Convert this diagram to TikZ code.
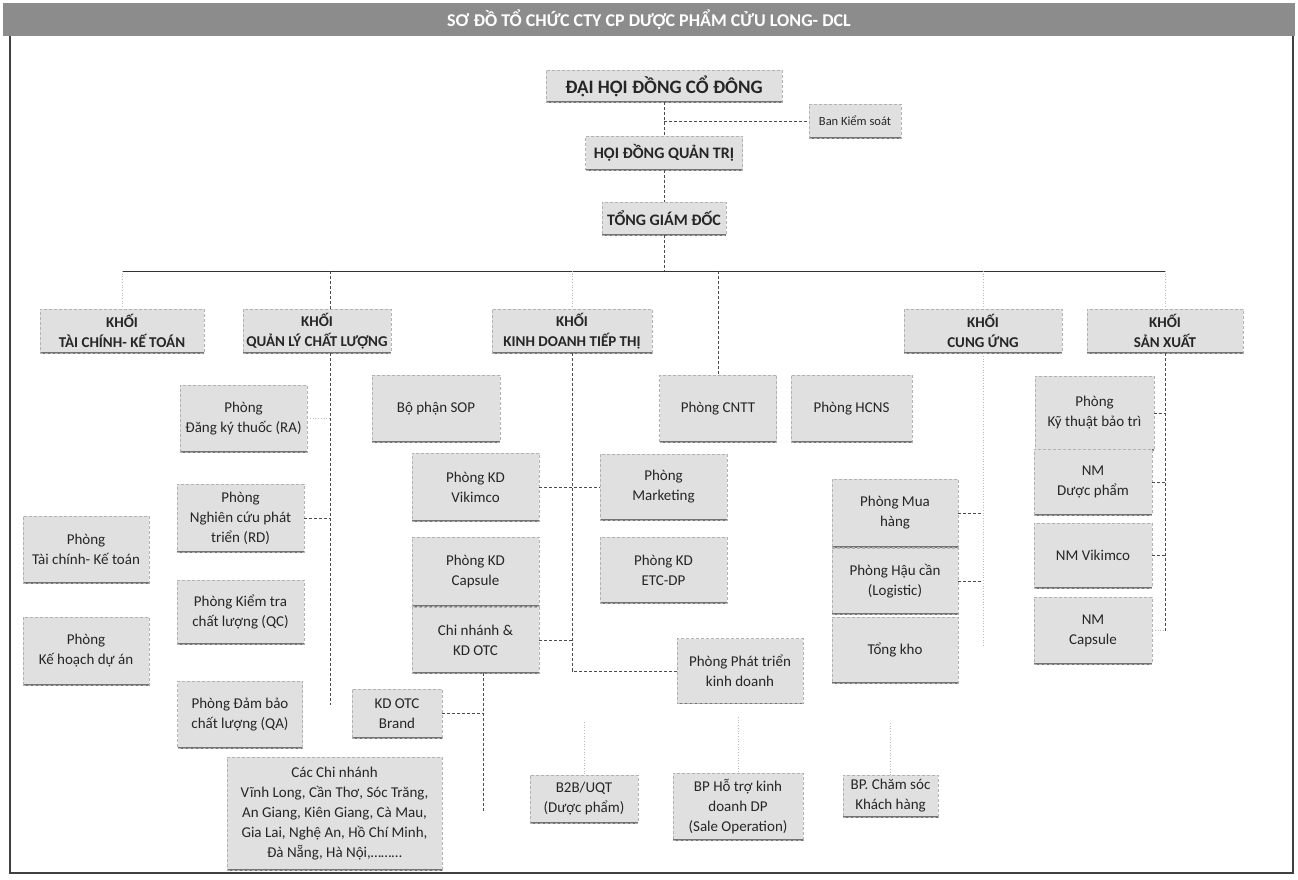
\documentclass[tikz,border=0pt]{standalone}
\usepackage{fontspec}
\setmainfont{Carlito}
\begin{document}
\begin{tikzpicture}[x=1pt,y=-1pt,
  box/.style={rectangle, draw=gray!60, densely dashed, line width=0.6pt, fill=gray!24,
    text=black!85, align=center, inner sep=2pt,
    font=\fontsize{15}{20}\selectfont,
    path picture={\draw[black!55, solid, line width=1.6pt] (path picture bounding box.south west) -- (path picture bounding box.south east);}},
  kbox/.style={box, font=\bfseries\fontsize{15}{20}\selectfont},
  topbox/.style={box, font=\bfseries\fontsize{16}{18}\selectfont},
  conn/.style={draw=black!70, line width=0.7pt, densely dashed},
  bus/.style={draw=black!80, line width=1pt},
  faint/.style={draw=gray!55, line width=0.7pt, dotted},
  titlebar/.style={rectangle, fill=black!45, text=white, inner sep=0pt, font=\bfseries\fontsize{18}{20}\selectfont}
]
\fill[white] (0,0) rectangle (1298,879);
\useasboundingbox (0,0) rectangle (1298,879);

% title bar and frame
\node[titlebar, minimum width=1292, minimum height=33] (title) at (649,19.5) {SƠ ĐỒ TỔ CHỨC CTY CP DƯỢC PHẨM CỬU LONG- DCL};
\draw[black!75, line width=1.2pt] (10,36) -- (10,873) -- (1293,873) -- (1293,36);

% top levels
\node[topbox, minimum width=236, minimum height=32, font=\bfseries\fontsize{19}{20}\selectfont] (dhdcd) at (664,86) {ĐẠI HỘI ĐỒNG CỔ ĐÔNG};
\node[box, minimum width=92, minimum height=34, font=\fontsize{12.5}{14}\selectfont] (bks) at (855,121) {Ban Kiểm soát};
\node[topbox, minimum width=157, minimum height=34] (hdqt) at (664,153) {HỘI ĐỒNG QUẢN TRỊ};
\node[topbox, minimum width=124, minimum height=33] (tgd) at (664,218.5) {TỔNG GIÁM ĐỐC};

% khoi
\node[kbox, minimum width=164, minimum height=44] (ktc) at (122,331) {KHỐI\\TÀI CHÍNH- KẾ TOÁN};
\node[kbox, minimum width=148, minimum height=44] (kql) at (317,331) {KHỐI\\QUẢN LÝ CHẤT LƯỢNG};
\node[kbox, minimum width=160, minimum height=44] (kkd) at (572,331) {KHỐI\\KINH DOANH TIẾP THỊ};
\node[kbox, minimum width=158, minimum height=44] (kcu) at (983,331) {KHỐI\\CUNG ỨNG};
\node[kbox, minimum width=156, minimum height=44] (ksx) at (1165,331) {KHỐI\\SẢN XUẤT};

% row of departments
\node[box, minimum width=128, minimum height=67] (sop) at (436,408.5) {Bộ phận SOP};
\node[box, minimum width=117, minimum height=67] (cntt) at (718,408.5) {Phòng CNTT};
\node[box, minimum width=121, minimum height=67] (hcns) at (851.5,408.5) {Phòng HCNS};
\node[box, minimum width=119, minimum height=74] (kt) at (1094.5,413) {Phòng\\Kỹ thuật bảo trì};

% quality
\node[box, minimum width=127, minimum height=67] (ra) at (243.5,418.5) {Phòng\\Đăng ký thuốc (RA)};
\node[box, minimum width=127, minimum height=68] (rd) at (240.5,518) {Phòng\\Nghiên cứu phát\\triển (RD)};
\node[box, minimum width=127, minimum height=64] (qc) at (240.5,612) {Phòng Kiểm tra\\chất lượng (QC)};
\node[box, minimum width=125, minimum height=67] (qa) at (240,714.5) {Phòng Đảm bảo\\chất lượng (QA)};

% finance
\node[box, minimum width=126, minimum height=67] (ptc) at (86,549.5) {Phòng\\Tài chính- Kế toán};
\node[box, minimum width=126, minimum height=68] (pkh) at (86,651) {Phòng\\Kế hoạch dự án};

% sales
\node[box, minimum width=127, minimum height=68] (kdv) at (475.5,487) {Phòng KD\\Vikimco};
\node[box, minimum width=127, minimum height=69] (kdc) at (475.5,571.5) {Phòng KD\\Capsule};
\node[box, minimum width=127, minimum height=66] (cn) at (475.5,640) {Chi nhánh \&\\KD OTC};
\node[box, minimum width=127, minimum height=66] (mkt) at (663.5,487) {Phòng\\Marketing};
\node[box, minimum width=127, minimum height=66] (etc) at (663.5,570) {Phòng KD\\ETC-DP};
\node[box, minimum width=126, minimum height=65] (ptkd) at (740,671) {Phòng Phát triển\\kinh doanh};
\node[box, minimum width=90, minimum height=49] (otcb) at (397,713.5) {KD OTC\\Brand};
\node[box, minimum width=215, minimum height=113] (ccn) at (334.5,813.5) {Các Chi nhánh\\Vĩnh Long, Cần Thơ, Sóc Trăng,\\An Giang, Kiên Giang, Cà Mau,\\Gia Lai, Nghệ An, Hồ Chí Minh,\\Đà Nẵng, Hà Nội,………};
\node[box, minimum width=108, minimum height=48] (b2b) at (584,799) {B2B/UQT\\(Dược phẩm)};
\node[box, minimum width=130, minimum height=67] (bpht) at (738,806.5) {BP Hỗ trợ kinh\\doanh DP\\(Sale Operation)};
\node[box, minimum width=95, minimum height=42] (bpcs) at (890.5,796) {BP. Chăm sóc\\Khách hàng};

% supply
\node[box, minimum width=126, minimum height=68] (pmh) at (895,513) {Phòng Mua\\hàng};
\node[box, minimum width=126, minimum height=66] (phc) at (895,581) {Phòng Hậu cần\\(Logistic)};
\node[box, minimum width=126, minimum height=66] (tk) at (895,650) {Tổng kho};

% production
\node[box, minimum width=118, minimum height=66] (nmdp) at (1093,482) {NM\\Dược phẩm};
\node[box, minimum width=118, minimum height=65] (nmvk) at (1093,555.5) {NM Vikimco};
\node[box, minimum width=118, minimum height=67] (nmcap) at (1093,630.5) {NM\\Capsule};

% connectors top
\coordinate (tb) at (664,271);
\coordinate (bk) at (664,121);
\coordinate (busL) at (122,271);
\coordinate (busR) at (1165,271);
\draw[conn] (dhdcd.south) -- (hdqt.north);
\draw[conn] (hdqt.south) -- (tgd.north);
\draw[conn] (tgd.south) -- (tb);
\draw[conn] (bk) -- (bks.west);
\draw[bus] (busL) -- (busR);

% drops from bus
\coordinate (b2) at (330,271);
\coordinate (b3) at (572,271);
\coordinate (b4) at (718,271);
\coordinate (b5) at (983,271);
\draw[faint] (busL) -- (ktc.north);
\draw[conn] (b2) -- (b2 |- kql.north);
\draw[faint] (b3) -- (kkd.north);
\draw[conn] (b4) -- (cntt.north);
\draw[faint] (b5) -- (kcu.north);
\draw[faint] (busR) -- (ksx.north);

% quality line
\coordinate (qend) at (330,705);
\draw[conn] (kql.south -| qend) -- (qend);
\draw[faint] (ra.east) -- (ra.east -| qend);
\draw[conn] (rd.east) -- (rd.east -| qend);

% sales line
\coordinate (kcorner) at (572,671);
\draw[conn] (kkd.south) -- (kcorner) -- (ptkd.west);
\draw[conn] (kdv.east) -- (mkt.west);
\draw[conn] (cn.east) -- (cn.east -| kcorner);
\coordinate (cnb) at (483,813);
\draw[conn] (cn.south -| cnb) -- (cnb);
\draw[conn] (otcb.east) -- (otcb.east -| cnb);

% faint lower
\coordinate (f1) at (584,722);
\coordinate (f2) at (738,717);
\coordinate (f3) at (890.5,723);
\draw[faint] (f1) -- (b2b.north);
\draw[faint] (f2) -- (bpht.north);
\draw[faint] (f3) -- (bpcs.north);

% supply line
\coordinate (cend) at (983,647);
\draw[faint] (kcu.south) -- (cend);
\draw[conn] (pmh.east) -- (pmh.east -| cend);
\draw[conn] (phc.east) -- (phc.east -| cend);

% production line
\coordinate (send) at (1165,632);
\draw[conn] (ksx.south) -- (send);
\draw[conn] (kt.east) -- (kt.east -| send);
\draw[conn] (nmdp.east) -- (nmdp.east -| send);
\draw[conn] (nmvk.east) -- (nmvk.east -| send);
\draw[faint] (nmcap.east) -- (nmcap.east -| send);
\end{tikzpicture}
\end{document}
